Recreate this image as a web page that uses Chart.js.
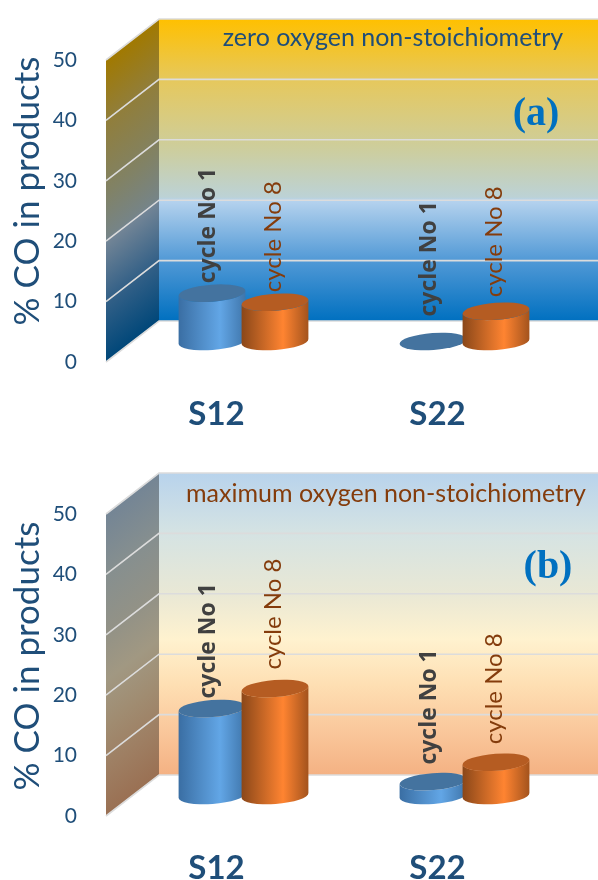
<!DOCTYPE html>
<html>
<head>
<meta charset="utf-8">
<title>% CO in products</title>
<script src="https://cdn.jsdelivr.net/npm/chart.js@4"></script>
<style>
  html, body { margin: 0; padding: 0; background: #fff; }
  #page { position: relative; width: 598px; height: 880px; overflow: hidden; }
  canvas { position: absolute; left: 0; }
  #panelA { top: 0; }
  #panelB { top: 454px; }
</style>
</head>
<body>
<div id="page">
  <canvas id="panelA" width="598" height="454"></canvas>
  <canvas id="panelB" width="598" height="426"></canvas>
</div>
<script>
const categories = ["S12", "S22"];
const seriesNames = ["cycle No 1", "cycle No 8"];

const cycle1Zero = [8, 0];
const cycle8Zero = [6.5, 5];
const cycle1Max = [14.4, 2.3];
const cycle8Max = [17.7, 5.5];

const yMin = 0;
const yMax = 50;
const yStep = 10;

// back wall colours, top to bottom
const wallZero = [[0, "#ffc000"], [0.2, "#e6c85c"], [0.44, "#ccceA0"], [0.59, "#bcd2d6"], [0.6, "#b6d3ee"], [0.8, "#5199d6"], [1, "#0070c0"]];
const wallMax = [[0, "#b8d3ec"], [0.2, "#d5e3e3"], [0.4, "#e9e8d5"], [0.55, "#fff2cf"], [0.7, "#fedfb3"], [0.85, "#fac89c"], [1, "#f4b183"]];

// wall depth and the depth of the row of cylinders
const depthX = 53, depthY = 41;
const rowX = 27, rowY = 20.5;
const radiusX = 33.5, radiusY = 8.5, tilt = -0.075;

const navy = "#1f4e79";
const rust = "#843c0c";

function darken(hex, k) {
  const n = parseInt(hex.slice(1), 16);
  const r = Math.round((n >> 16 & 255) * k);
  const g = Math.round((n >> 8 & 255) * k);
  const b = Math.round((n & 255) * k);
  return `rgb(${r},${g},${b})`;
}

function drawWalls(chart, stops) {
  const ctx = chart.ctx;
  const a = chart.chartArea;
  const y = chart.scales.y;
  const W = chart.width;
  const backX = a.left + depthX;
  const backTop = a.top - depthY, backBottom = a.bottom - depthY;

  ctx.save();
  const back = ctx.createLinearGradient(0, backTop, 0, backBottom);
  stops.forEach(s => back.addColorStop(s[0], s[1]));
  ctx.fillStyle = back;
  ctx.fillRect(backX, backTop, W - backX, backBottom - backTop);

  // side wall shades along its slant
  const nx = depthY / Math.hypot(depthX, depthY), ny = depthX / Math.hypot(depthX, depthY);
  const span = (a.bottom - a.top) * ny;
  const mx = a.left + depthX / 2, my = a.top - depthY / 2;
  const side = ctx.createLinearGradient(mx, my, mx + nx * span, my + ny * span);
  stops.forEach(s => side.addColorStop(s[0], darken(s[1], 0.63)));
  ctx.fillStyle = side;
  ctx.beginPath();
  ctx.moveTo(a.left, a.top);
  ctx.lineTo(backX, backTop);
  ctx.lineTo(backX, backBottom);
  ctx.lineTo(a.left, a.bottom);
  ctx.closePath();
  ctx.fill();

  // gridlines wrap round both walls
  ctx.strokeStyle = "#dcdcdc";
  ctx.lineWidth = 1.6;
  for (let v = yMin; v <= yMax; v += yStep) {
    const py = y.getPixelForValue(v);
    ctx.beginPath();
    ctx.moveTo(a.left, py);
    ctx.lineTo(backX, py - depthY);
    ctx.lineTo(W, py - depthY);
    ctx.stroke();
  }
  ctx.restore();
}

function drawCylinder(ctx, bar, dark, light, edge, lid) {
  const cx = bar.x + rowX;
  const top = bar.y - rowY, base = bar.base - rowY;
  ctx.save();
  if (base - top > 0.5) {
    const g = ctx.createLinearGradient(cx - radiusX, 0, cx + radiusX, 0);
    g.addColorStop(0, dark);
    g.addColorStop(0.62, light);
    g.addColorStop(1, edge);
    ctx.fillStyle = g;
    ctx.beginPath();
    ctx.ellipse(cx, top, radiusX, radiusY, tilt, 0, Math.PI, false);
    ctx.ellipse(cx, base, radiusX, radiusY, tilt, Math.PI, 0, true);
    ctx.closePath();
    ctx.fill();
  }
  ctx.fillStyle = lid;
  ctx.beginPath();
  ctx.ellipse(cx, top, radiusX, radiusY, tilt, 0, Math.PI * 2);
  ctx.fill();
  ctx.restore();
}

function verticalText(ctx, text, x, y, font, color, align) {
  ctx.save();
  ctx.translate(x, y);
  ctx.rotate(-Math.PI / 2);
  ctx.font = font;
  ctx.fillStyle = color;
  ctx.textAlign = align;
  ctx.textBaseline = "middle";
  ctx.fillText(text, 0, 0);
  ctx.restore();
}

const cylinderLooks = [
  ["#3a6ea3", "#62a6e6", "#3f75aa", "#44739f"],
  ["#8a4719", "#ff8431", "#a3531d", "#b55c22"]
];

const cylinderPlugin = {
  id: "cylinders",
  beforeDatasetsDraw(chart, args, o) {
    drawWalls(chart, o.stops);
    // cycle 8 sits in front of cycle 1, so paint in dataset order
    chart.data.datasets.forEach((ds, d) => {
      const look = cylinderLooks[d];
      chart.getDatasetMeta(d).data.forEach(bar => drawCylinder(chart.ctx, bar, look[0], look[1], look[2], look[3]));
    });
  },
  beforeDatasetDraw() {
    return false;
  },
  afterDatasetsDraw(chart, args, o) {
    const ctx = chart.ctx;
    chart.data.datasets.forEach((ds, d) => {
      chart.getDatasetMeta(d).data.forEach((bar, i) => {
        const gap = o.labelGaps[d][i];
        const font = d === 0 ? "bold 23px 'Open Sans'" : "24px Lato";
        const col = d === 0 ? "#404040" : rust;
        verticalText(ctx, ds.label, bar.x + rowX + (d === 0 ? -4 : -1.5), bar.y - rowY - gap, font, col, "left");
      });
    });
    verticalText(ctx, "% CO in products", 28, o.axisTitleY, "35px Lato", navy, "center");
    ctx.save();
    ctx.textBaseline = "middle";
    ctx.textAlign = "center";
    ctx.font = "25px Lato";
    ctx.fillStyle = o.noteColor;
    ctx.fillText(o.note, o.noteX, o.noteY);
    ctx.font = "bold 40px 'Liberation Serif'";
    ctx.fillStyle = "#0070c0";
    ctx.fillText(o.tag, o.tagX, o.tagY);
    ctx.restore();
  }
};

function makePanel(id, first, second, opts) {
  return new Chart(document.getElementById(id), {
    type: "bar",
    data: {
      labels: categories,
      datasets: [
        { label: seriesNames[0], data: first },
        { label: seriesNames[1], data: second }
      ]
    },
    options: {
      responsive: false,
      animation: false,
      devicePixelRatio: 1,
      categoryPercentage: 0.57,
      barPercentage: 1,
      layout: { padding: { top: 60, right: 50, left: 0, bottom: 0 } },
      scales: {
        x: {
          grid: { display: false },
          border: { display: false },
          ticks: { color: navy, padding: 25, font: { family: "Lato", weight: "bold", size: 33 } },
          afterFit: s => { s.height = s.chart.height - 362; }
        },
        y: {
          min: yMin,
          max: yMax,
          grid: { display: false },
          border: { display: false },
          ticks: { stepSize: yStep, color: navy, padding: 21, font: { family: "Lato", size: 21 } },
          afterFit: s => { s.width = 106; }
        }
      },
      plugins: {
        legend: { display: false },
        tooltip: { enabled: false },
        cylinders: opts
      }
    },
    plugins: [cylinderPlugin]
  });
}

makePanel("panelA", cycle1Zero, cycle8Zero, {
  stops: wallZero,
  labelGaps: [[10, 25], [10, 14]],
  axisTitleY: 191,
  note: "zero oxygen non-stoichiometry", noteColor: navy, noteX: 393, noteY: 38,
  tag: "(a)", tagX: 536, tagY: 115
});

makePanel("panelB", cycle1Max, cycle8Max, {
  stops: wallMax,
  labelGaps: [[10, 17], [19, 18]],
  axisTitleY: 202,
  note: "maximum oxygen non-stoichiometry", noteColor: rust, noteX: 386, noteY: 40,
  tag: "(b)", tagX: 548, tagY: 114
});
</script>
</body>
</html>
